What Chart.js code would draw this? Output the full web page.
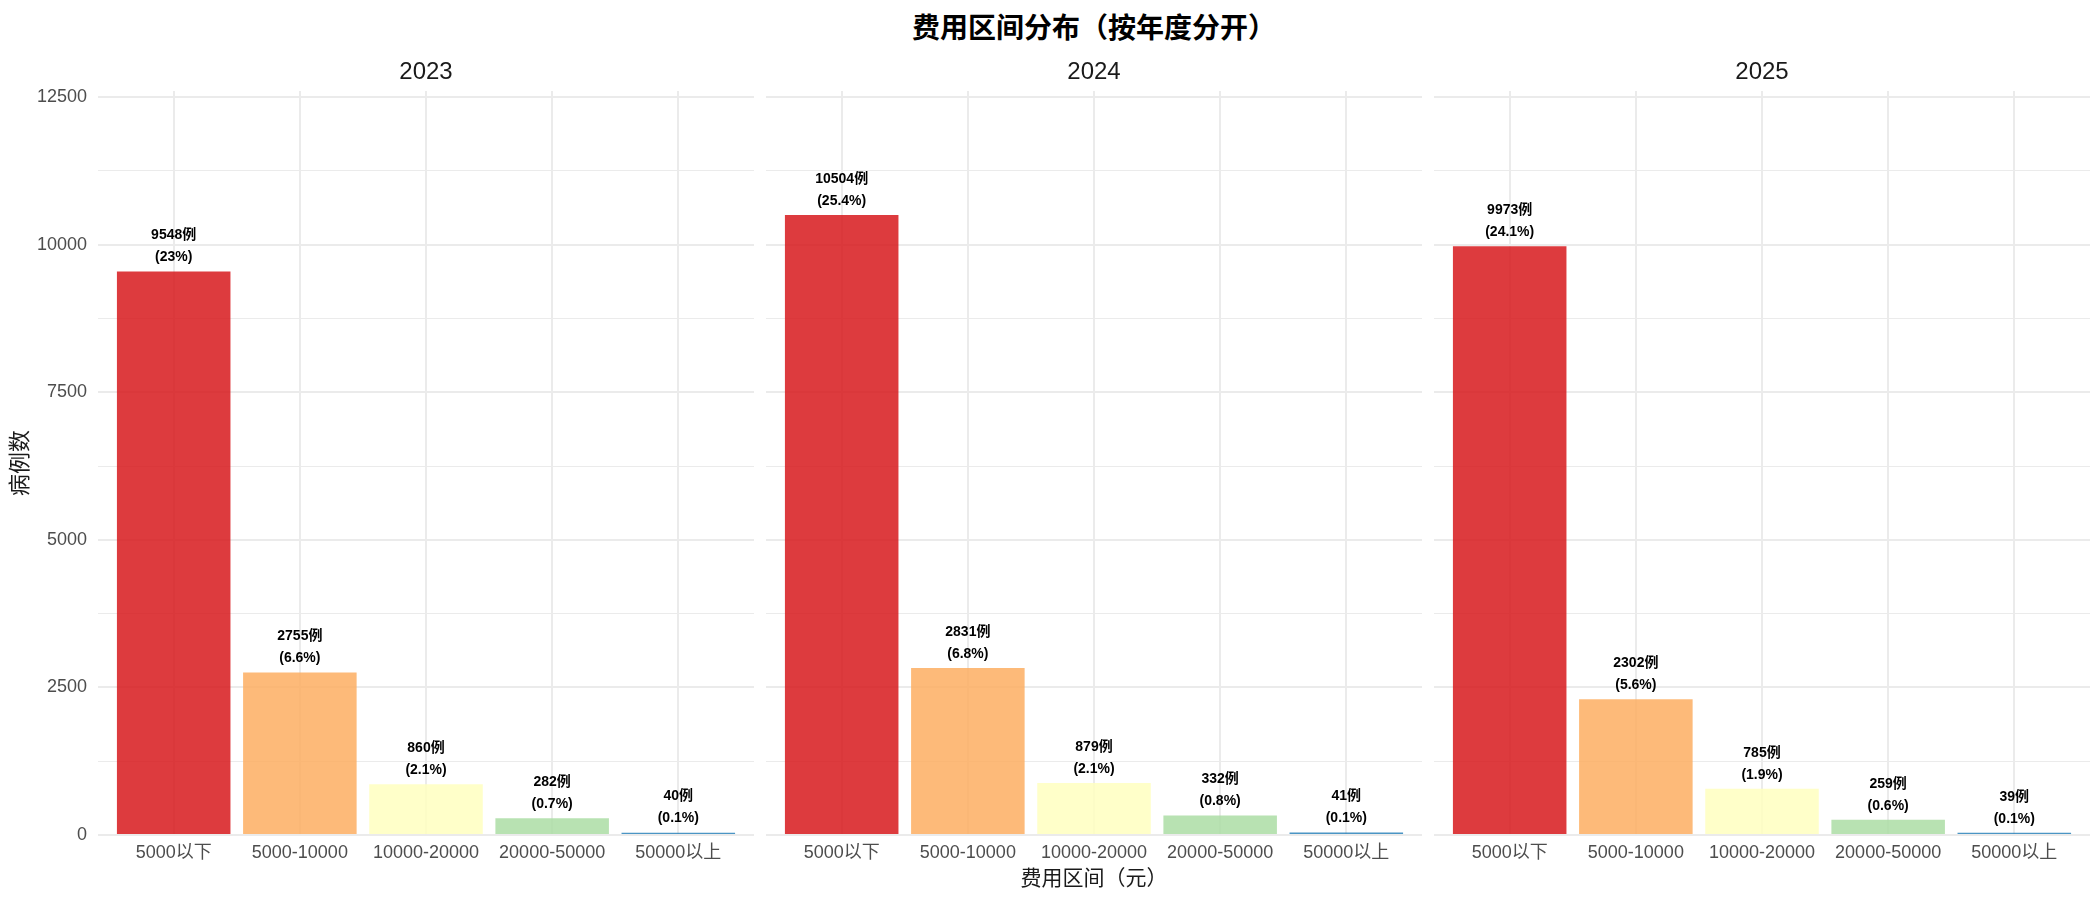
<!DOCTYPE html>
<html>
<head>
<meta charset="utf-8">
<script src="https://cdn.jsdelivr.net/npm/chart.js@4"></script>
<style>
  html, body { margin: 0; padding: 0; background: #ffffff; }
  body { width: 2100px; height: 900px; position: relative; overflow: hidden;
         font-family: "Liberation Sans", "Noto Sans CJK SC", sans-serif; }
  canvas { position: absolute; }
  .txt { position: absolute; text-align: center; white-space: nowrap; }
  #main-title { left: 98px; width: 1992px; top: 11px; font-size: 28px; line-height: 30px;
                font-weight: bold; color: #000; font-family: "Noto Sans CJK SC", sans-serif; }
  #x-title { left: 98px; width: 1992px; top: 866px; font-size: 21px; line-height: 24px; color: #1a1a1a; }
</style>
</head>
<body>
<div id="main-title" class="txt">费用区间分布（按年度分开）</div>
<canvas id="panel-0" width="754" height="815" style="left:0px;top:60px"></canvas>
<canvas id="panel-1" width="656" height="815" style="left:766px;top:60px"></canvas>
<canvas id="panel-2" width="656" height="815" style="left:1434px;top:60px"></canvas>
<div id="x-title" class="txt">费用区间（元）</div>
<script>
// data
const CATEGORIES = ['5000以下', '5000-10000', '10000-20000', '20000-50000', '50000以上'];
const YEARS = ['2023', '2024', '2025'];
const COUNTS_2023 = [9548, 2755, 860, 282, 40];
const COUNTS_2024 = [10504, 2831, 879, 332, 41];
const COUNTS_2025 = [9973, 2302, 785, 259, 39];
const PCT_2023 = ['23%', '6.6%', '2.1%', '0.7%', '0.1%'];
const PCT_2024 = ['25.4%', '6.8%', '2.1%', '0.8%', '0.1%'];
const PCT_2025 = ['24.1%', '5.6%', '1.9%', '0.6%', '0.1%'];
const Y_MAJOR = [0, 2500, 5000, 7500, 10000, 12500];
const Y_MINOR = [1250, 3750, 6250, 8750, 11250];
const Y_MAX = 12605;
const BAR_COLORS = ['rgba(215,25,28,0.85)', 'rgba(253,174,97,0.85)', 'rgba(255,255,191,0.85)',
                    'rgba(171,221,164,0.85)', 'rgba(43,131,186,0.85)'];

const COUNTS = [COUNTS_2023, COUNTS_2024, COUNTS_2025];
const PCTS = [PCT_2023, PCT_2024, PCT_2025];

const FONT = '"Liberation Sans", "Noto Sans CJK SC", sans-serif';
const GRID = '#ebebeb';

// two-line labels above each bar
const barLabels = {
    id: 'barLabels',
    afterDatasetsDraw(chart) {
        const ctx = chart.ctx;
        const meta = chart.getDatasetMeta(0);
        const pcts = chart.options.plugins.barLabels.pcts;
        const counts = chart.data.datasets[0].data;
        ctx.save();
        ctx.fillStyle = '#000';
        ctx.font = 'bold 14px ' + FONT;
        ctx.textAlign = 'center';
        ctx.textBaseline = 'middle';
        meta.data.forEach((bar, i) => {
            ctx.fillText(counts[i].y + '例', bar.x, bar.y - 36);
            ctx.fillText('(' + pcts[i] + ')', bar.x, bar.y - 14);
        });
        ctx.restore();
    }
};

function makePanel(idx) {
    const first = idx === 0;
    const canvas = document.getElementById('panel-' + idx);
    const points = COUNTS[idx].map((v, i) => ({ x: i + 1, y: v }));
    const yTicks = Y_MAJOR.concat(Y_MINOR).sort((a, b) => a - b);

    return new Chart(canvas.getContext('2d'), {
        type: 'bar',
        data: {
            datasets: [{
                data: points,
                backgroundColor: BAR_COLORS,
                borderWidth: 0,
                barPercentage: 0.9,
                categoryPercentage: 1
            }]
        },
        options: {
            responsive: false,
            animation: false,
            devicePixelRatio: 1,
            layout: { padding: 0 },
            plugins: {
                legend: { display: false },
                tooltip: { enabled: false },
                title: {
                    display: true,
                    text: YEARS[idx],
                    fullSize: false,
                    color: '#1a1a1a',
                    font: { family: FONT, size: 24, weight: 'normal', lineHeight: 1 },
                    padding: { top: 0, bottom: 7 }
                },
                barLabels: { pcts: PCTS[idx] }
            },
            scales: {
                x: {
                    type: 'linear',
                    min: 0.4,
                    max: 5.6,
                    offset: false,
                    afterBuildTicks: (s) => { s.ticks = CATEGORIES.map((c, i) => ({ value: i + 1 })); },
                    afterFit: (s) => { s.height = 40; },
                    ticks: {
                        autoSkip: false,
                        maxRotation: 0,
                        padding: 7,
                        color: '#4d4d4d',
                        font: { family: FONT, size: 18 },
                        callback: (v) => CATEGORIES[v - 1]
                    },
                    grid: { color: GRID, lineWidth: 2, drawTicks: false, offset: false },
                    border: { display: false }
                },
                y: {
                    min: 0,
                    max: Y_MAX,
                    afterBuildTicks: (s) => { s.ticks = yTicks.map(v => ({ value: v })); },
                    afterFit: (s) => { s.width = first ? 98 : 0; },
                    ticks: {
                        display: first,
                        padding: 11,
                        color: '#4d4d4d',
                        font: { family: FONT, size: 18 },
                        callback: (v) => (v % 2500 === 0 ? String(v) : '')
                    },
                    title: {
                        display: first,
                        text: '病例数',
                        color: '#1a1a1a',
                        font: { family: FONT, size: 22 },
                        padding: { top: 8, bottom: 0 }
                    },
                    grid: {
                        color: GRID,
                        lineWidth: (c) => (c.tick && c.tick.value % 2500 === 0 ? 2 : 1),
                        drawTicks: false
                    },
                    border: { display: false }
                }
            }
        },
        plugins: [barLabels]
    });
}

YEARS.forEach((y, i) => makePanel(i));
</script>
</body>
</html>
